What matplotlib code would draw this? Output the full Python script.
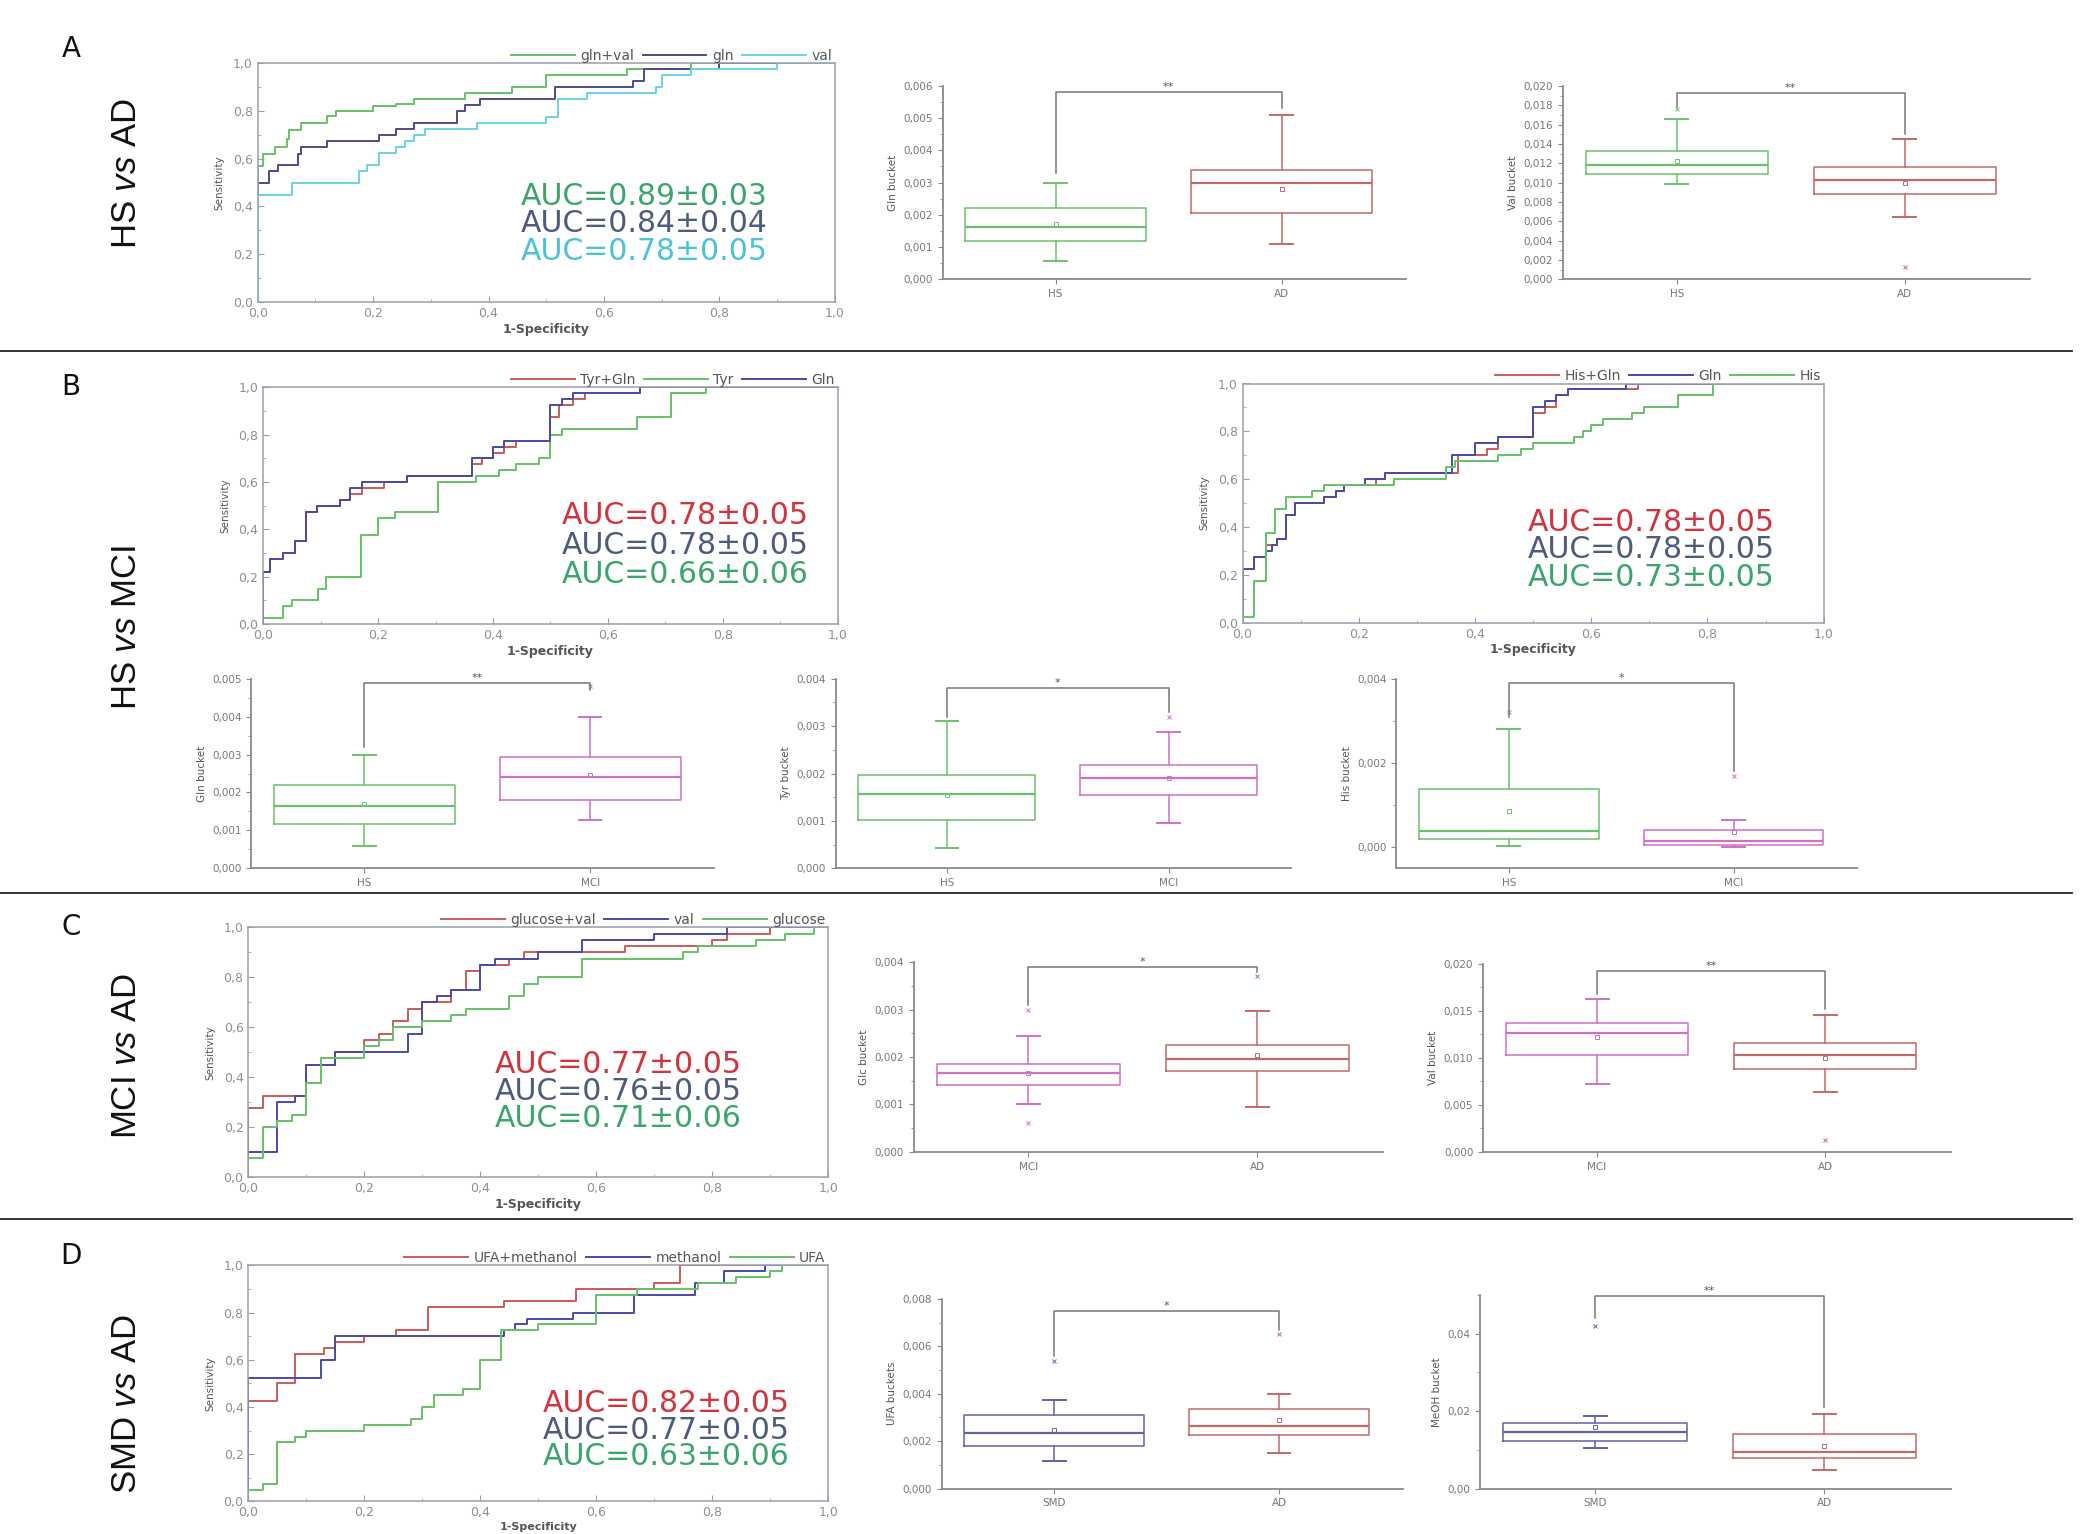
import matplotlib
matplotlib.use("Agg")
import matplotlib.pyplot as plt
from matplotlib.ticker import FuncFormatter, MultipleLocator, AutoMinorLocator
from matplotlib.lines import Line2D

plt.rcParams['font.family'] = ['DejaVu Sans']
plt.rcParams['mathtext.fontset'] = 'custom'
plt.rcParams['mathtext.rm'] = 'Liberation Sans'
plt.rcParams['mathtext.it'] = 'Liberation Sans:italic'

# ---- ROC data (fpr / tpr corner points, step curves) ----
# panel A, HS vs AD
a_glnval_fpr = [0, 0, 0.01, 0.03, 0.05, 0.055, 0.075, 0.12, 0.135, 0.20, 0.24, 0.27, 0.36, 0.44, 0.50, 0.64, 0.75, 1.0]
a_glnval_tpr = [0, 0.57, 0.62, 0.65, 0.68, 0.72, 0.75, 0.78, 0.80, 0.82, 0.83, 0.85, 0.875, 0.90, 0.95, 0.975, 1.0, 1.0]
a_gln_fpr = [0, 0, 0.02, 0.035, 0.07, 0.075, 0.12, 0.21, 0.24, 0.27, 0.345, 0.36, 0.385, 0.515, 0.65, 0.67, 0.80, 1.0]
a_gln_tpr = [0, 0.50, 0.55, 0.575, 0.62, 0.65, 0.675, 0.70, 0.725, 0.75, 0.80, 0.825, 0.85, 0.90, 0.925, 0.975, 1.0, 1.0]
a_val_fpr = [0, 0, 0.06, 0.175, 0.19, 0.21, 0.24, 0.255, 0.27, 0.29, 0.38, 0.50, 0.52, 0.57, 0.69, 0.70, 0.75, 0.90, 1.0]
a_val_tpr = [0, 0.45, 0.50, 0.55, 0.575, 0.625, 0.65, 0.675, 0.70, 0.725, 0.75, 0.775, 0.85, 0.875, 0.90, 0.95, 0.975, 1.0, 1.0]

# panel B, HS vs MCI (Tyr)
b1_tyrgln_fpr = [0, 0, 0.012, 0.035, 0.055, 0.075, 0.094, 0.133, 0.152, 0.172, 0.21, 0.25, 0.363, 0.38, 0.40, 0.42, 0.44, 0.50, 0.515, 0.54, 0.56, 0.656, 1.0]
b1_tyrgln_tpr = [0, 0.22, 0.275, 0.30, 0.35, 0.475, 0.50, 0.525, 0.55, 0.575, 0.60, 0.625, 0.675, 0.70, 0.725, 0.75, 0.775, 0.875, 0.925, 0.95, 0.975, 1.0, 1.0]
b1_tyr_fpr = [0, 0, 0.035, 0.05, 0.095, 0.11, 0.17, 0.20, 0.23, 0.305, 0.37, 0.41, 0.44, 0.48, 0.50, 0.52, 0.65, 0.71, 0.77, 1.0]
b1_tyr_tpr = [0, 0.025, 0.075, 0.10, 0.15, 0.20, 0.375, 0.45, 0.475, 0.60, 0.625, 0.65, 0.675, 0.70, 0.80, 0.825, 0.875, 0.975, 1.0, 1.0]
b1_gln_fpr = [0, 0, 0.012, 0.035, 0.055, 0.075, 0.094, 0.133, 0.152, 0.172, 0.25, 0.363, 0.40, 0.42, 0.50, 0.52, 0.54, 0.656, 1.0]
b1_gln_tpr = [0, 0.22, 0.275, 0.30, 0.35, 0.475, 0.50, 0.525, 0.575, 0.60, 0.625, 0.70, 0.75, 0.775, 0.925, 0.95, 0.975, 1.0, 1.0]

# panel B, HS vs MCI (His)
b2_hisgln_fpr = [0, 0, 0.02, 0.04, 0.06, 0.075, 0.09, 0.14, 0.16, 0.175, 0.23, 0.245, 0.37, 0.42, 0.44, 0.50, 0.52, 0.54, 0.56, 0.68, 1.0]
b2_hisgln_tpr = [0, 0.225, 0.275, 0.325, 0.35, 0.45, 0.50, 0.525, 0.55, 0.575, 0.60, 0.625, 0.70, 0.725, 0.775, 0.875, 0.90, 0.95, 0.975, 1.0, 1.0]
b2_gln_fpr = [0, 0, 0.02, 0.04, 0.05, 0.06, 0.075, 0.09, 0.14, 0.16, 0.175, 0.21, 0.245, 0.36, 0.40, 0.44, 0.50, 0.52, 0.54, 0.56, 0.66, 1.0]
b2_gln_tpr = [0, 0.225, 0.275, 0.30, 0.325, 0.35, 0.45, 0.50, 0.525, 0.55, 0.575, 0.60, 0.625, 0.70, 0.75, 0.775, 0.90, 0.925, 0.95, 0.975, 1.0, 1.0]
b2_his_fpr = [0, 0, 0.02, 0.04, 0.055, 0.075, 0.12, 0.14, 0.26, 0.35, 0.365, 0.44, 0.48, 0.50, 0.57, 0.585, 0.60, 0.62, 0.67, 0.69, 0.75, 0.81, 1.0]
b2_his_tpr = [0, 0.025, 0.175, 0.375, 0.475, 0.525, 0.55, 0.575, 0.60, 0.65, 0.675, 0.70, 0.725, 0.75, 0.775, 0.80, 0.825, 0.85, 0.875, 0.90, 0.95, 1.0, 1.0]

# panel C, MCI vs AD
c_glcval_fpr = [0, 0, 0.025, 0.10, 0.15, 0.20, 0.225, 0.25, 0.275, 0.30, 0.35, 0.375, 0.40, 0.45, 0.475, 0.65, 0.80, 0.825, 0.90, 1.0]
c_glcval_tpr = [0, 0.275, 0.325, 0.45, 0.50, 0.55, 0.575, 0.625, 0.675, 0.70, 0.75, 0.825, 0.85, 0.875, 0.90, 0.925, 0.95, 0.975, 1.0, 1.0]
c_val_fpr = [0, 0, 0.05, 0.08, 0.10, 0.15, 0.275, 0.30, 0.325, 0.35, 0.40, 0.425, 0.50, 0.575, 0.70, 0.825, 1.0]
c_val_tpr = [0, 0.10, 0.30, 0.325, 0.45, 0.50, 0.575, 0.70, 0.725, 0.75, 0.85, 0.875, 0.90, 0.95, 0.975, 1.0, 1.0]
c_glc_fpr = [0, 0, 0.025, 0.05, 0.075, 0.10, 0.125, 0.20, 0.225, 0.25, 0.30, 0.35, 0.375, 0.45, 0.475, 0.50, 0.575, 0.75, 0.775, 0.875, 0.925, 0.975, 1.0]
c_glc_tpr = [0, 0.075, 0.20, 0.225, 0.25, 0.375, 0.475, 0.525, 0.55, 0.60, 0.625, 0.65, 0.675, 0.725, 0.775, 0.80, 0.875, 0.90, 0.925, 0.95, 0.975, 1.0, 1.0]

# panel D, SMD vs AD
d_ufameoh_fpr = [0, 0, 0.05, 0.08, 0.13, 0.15, 0.20, 0.255, 0.31, 0.44, 0.565, 0.70, 0.745, 1.0]
d_ufameoh_tpr = [0, 0.425, 0.50, 0.625, 0.65, 0.675, 0.70, 0.725, 0.825, 0.85, 0.90, 0.925, 1.0, 1.0]
d_meoh_fpr = [0, 0, 0.125, 0.15, 0.44, 0.46, 0.48, 0.56, 0.665, 0.77, 0.82, 0.89, 1.0]
d_meoh_tpr = [0, 0.525, 0.60, 0.70, 0.725, 0.75, 0.775, 0.80, 0.875, 0.925, 0.975, 1.0, 1.0]
d_ufa_fpr = [0, 0, 0.025, 0.05, 0.08, 0.10, 0.20, 0.28, 0.30, 0.32, 0.37, 0.40, 0.435, 0.50, 0.60, 0.67, 0.775, 0.84, 0.90, 0.92, 1.0]
d_ufa_tpr = [0, 0.05, 0.075, 0.25, 0.275, 0.30, 0.325, 0.35, 0.40, 0.45, 0.475, 0.60, 0.725, 0.75, 0.875, 0.90, 0.925, 0.95, 0.975, 1.0, 1.0]

# ---- box data: [whisker low, q1, median, q3, whisker high, mean] ----
a_gln_hs = [0.00058, 0.00118, 0.00163, 0.0022, 0.0030, 0.0017]
a_gln_ad = [0.0011, 0.00206, 0.00298, 0.0034, 0.0051, 0.0028]
a_val_hs = [0.0099, 0.0109, 0.0118, 0.0133, 0.0166, 0.0122]
a_val_ad = [0.0064, 0.0088, 0.0103, 0.0116, 0.0145, 0.0100]
b_gln_hs = [0.00058, 0.00118, 0.00163, 0.0022, 0.0030, 0.0017]
b_gln_mci = [0.00128, 0.0018, 0.0024, 0.00293, 0.0040, 0.00245]
b_tyr_hs = [0.00042, 0.00102, 0.00156, 0.00196, 0.0031, 0.00155]
b_tyr_mci = [0.00095, 0.00155, 0.0019, 0.00217, 0.00287, 0.0019]
b_his_hs = [0.00002, 0.0002, 0.00038, 0.00138, 0.0028, 0.00085]
b_his_mci = [0.0, 0.00005, 0.00015, 0.0004, 0.00065, 0.00035]
c_glc_mci = [0.0010, 0.0014, 0.00166, 0.00185, 0.00244, 0.00167]
c_glc_ad = [0.00095, 0.0017, 0.00195, 0.00226, 0.00296, 0.00204]
c_val_mci = [0.0072, 0.0103, 0.0126, 0.0137, 0.0162, 0.0122]
c_val_ad = [0.0064, 0.0088, 0.0103, 0.0116, 0.0145, 0.0100]
d_ufa_smd = [0.00115, 0.0018, 0.00235, 0.0031, 0.00375, 0.00245]
d_ufa_ad = [0.0015, 0.00225, 0.00265, 0.00335, 0.0040, 0.0029]
d_meoh_smd = [0.0104, 0.0122, 0.0145, 0.0168, 0.0188, 0.0160]
d_meoh_ad = [0.0048, 0.0078, 0.0095, 0.0142, 0.0192, 0.0110]

# outlier points
a_val_hs_out = [0.0176]
a_val_ad_out = [0.0013]
b_gln_mci_out = [0.0048]
b_tyr_mci_out = [0.0032]
b_his_hs_out = [0.0032]
b_his_mci_out = [0.0017]
c_glc_mci_out = [0.0006, 0.0030]
c_glc_ad_out = [0.0037]
c_val_ad_out = [0.0013]
d_ufa_smd_out = [0.0054]
d_ufa_ad_out = [0.0065]
d_meoh_smd_out = [0.042]

GREEN_L = '#66c266'
PURPLE_L = '#4b4b8f'
CYAN_L = '#6ad3e3'
RED_L = '#cc5a5a'
BLUE_L = '#4a4aa8'
GREEN_T = '#3aa56c'
SLATE_T = '#4f5b7c'
CYAN_T = '#4cc2d6'
RED_T = '#d2333d'

HS_C = '#6cc06c'
AD_C = '#c26a6a'
MCI_C = '#cf70c8'
SMD_C = '#6262a8'
AXC = '#9a9fae'
TXC = '#8f8f8f'


def comma_fmt(nd):
    return FuncFormatter(lambda v, p: f"{v:.{nd}f}".replace('.', ','))


def draw_roc(ax, curves, names, colors, aucs, auc_colors, tx, ty):
    for (fpr, tpr), name, c in zip(curves, names, colors):
        ax.plot(fpr, tpr, drawstyle='steps-post', color=c, lw=1.4, label=name)
    ax.set_xlim(0, 1)
    ax.set_ylim(0, 1)
    ax.xaxis.set_major_locator(MultipleLocator(0.2))
    ax.yaxis.set_major_locator(MultipleLocator(0.2))
    ax.xaxis.set_minor_locator(MultipleLocator(0.1))
    ax.yaxis.set_minor_locator(MultipleLocator(0.1))
    ax.xaxis.set_major_formatter(comma_fmt(1))
    ax.yaxis.set_major_formatter(comma_fmt(1))
    ax.tick_params(which='both', direction='in', color=AXC, labelcolor=TXC, labelsize=9)
    ax.tick_params(which='major', length=4)
    ax.tick_params(which='minor', length=2)
    for s in ax.spines.values():
        s.set_color(AXC)
        s.set_linewidth(1.1)
    ax.set_ylabel('Sensitivity', fontsize=7.5, color='#555555', labelpad=6)
    ax.set_xlabel('1-Specificity', fontsize=9, color='#555555', fontweight='bold', labelpad=2)
    ax.legend(loc='lower right', bbox_to_anchor=(1.0, 0.99), ncol=3, frameon=False,
              fontsize=10, handlelength=4.6, columnspacing=0.6, handletextpad=0.4,
              borderaxespad=0.1, borderpad=0.1, labelcolor='#555555')
    for t, c, y in zip(aucs, auc_colors, ty):
        ax.text(tx, y, t, color=c, fontsize=21.5, transform=ax.transAxes, va='center', ha='left')


def draw_box(ax, stats, outs, colors, names, ylabel, ylim, ystep, nd, sig_y, legs, star):
    for i, (s, f, c) in enumerate(zip(stats, outs, colors)):
        d = dict(whislo=s[0], q1=s[1], med=s[2], q3=s[3], whishi=s[4], mean=s[5], fliers=f)
        ax.bxp([d], positions=[i + 1], widths=0.8, showmeans=True, showfliers=True,
               manage_ticks=False, capwidths=0.1,
               boxprops=dict(color=c, lw=1.1),
               whiskerprops=dict(color=c, lw=1.1),
               capprops=dict(color=c, lw=1.4),
               medianprops=dict(color=c, lw=1.6),
               meanprops=dict(marker='s', markersize=2.5, markerfacecolor='none', markeredgecolor=c, markeredgewidth=0.7),
               flierprops=dict(marker='x', markersize=3, markeredgecolor=c, markeredgewidth=0.7))
    ax.plot([1, 1, 2, 2], [legs[0], sig_y, sig_y, legs[1]], color='#777777', lw=1.1)
    ax.text(1.5, sig_y, star, ha='center', va='bottom', fontsize=8, color='#555555')
    ax.set_xlim(0.5, 2.55)
    ax.set_ylim(*ylim)
    ax.set_xticks([1, 2])
    ax.set_xticklabels(names)
    ax.yaxis.set_major_locator(MultipleLocator(ystep))
    ax.yaxis.set_minor_locator(AutoMinorLocator(2))
    ax.yaxis.set_major_formatter(comma_fmt(nd))
    ax.spines['top'].set_visible(False)
    ax.spines['right'].set_visible(False)
    for side in ['left', 'bottom']:
        ax.spines[side].set_color('#8a8a8a')
        ax.spines[side].set_linewidth(1.3)
    ax.tick_params(which='both', direction='out', color='#8a8a8a', labelcolor='#777777', labelsize=7.5)
    ax.tick_params(which='major', length=3.5)
    ax.tick_params(which='minor', length=2)
    ax.set_ylabel(ylabel, fontsize=7.5, color='#555555', labelpad=4)


fig = plt.figure(figsize=(20.95, 15.34), dpi=100)

# ---- row A ----
ax = fig.add_axes([0.123, 0.803, 0.2755, 0.156])
draw_roc(ax, [(a_glnval_fpr, a_glnval_tpr), (a_gln_fpr, a_gln_tpr), (a_val_fpr, a_val_tpr)],
         ['gln+val', 'gln', 'val'], [GREEN_L, PURPLE_L, CYAN_L],
         ['AUC=0.89±0.03', 'AUC=0.84±0.04', 'AUC=0.78±0.05'], [GREEN_T, SLATE_T, CYAN_T],
         0.455, [0.441, 0.330, 0.212])
ax = fig.add_axes([0.450, 0.818, 0.221, 0.126])
draw_box(ax, [a_gln_hs, a_gln_ad], [[], []], [HS_C, AD_C], ['HS', 'AD'], 'Gln bucket',
         (0, 0.006), 0.001, 3, 0.0058, [0.0033, 0.0053], '**')
ax = fig.add_axes([0.746, 0.818, 0.223, 0.126])
draw_box(ax, [a_val_hs, a_val_ad], [a_val_hs_out, a_val_ad_out], [HS_C, AD_C], ['HS', 'AD'], 'Val bucket',
         (0, 0.020), 0.002, 3, 0.0193, [0.0178, 0.015], '**')

# ---- row B ----
ax = fig.add_axes([0.1256, 0.5932, 0.2743, 0.1542])
draw_roc(ax, [(b1_tyrgln_fpr, b1_tyrgln_tpr), (b1_tyr_fpr, b1_tyr_tpr), (b1_gln_fpr, b1_gln_tpr)],
         ['Tyr+Gln', 'Tyr', 'Gln'], [RED_L, GREEN_L, BLUE_L],
         ['AUC=0.78±0.05', 'AUC=0.78±0.05', 'AUC=0.66±0.06'], [RED_T, SLATE_T, GREEN_T],
         0.519, [0.458, 0.333, 0.209])
ax = fig.add_axes([0.5931, 0.5941, 0.2774, 0.1559])
draw_roc(ax, [(b2_hisgln_fpr, b2_hisgln_tpr), (b2_gln_fpr, b2_gln_tpr), (b2_his_fpr, b2_his_tpr)],
         ['His+Gln', 'Gln', 'His'], [RED_L, BLUE_L, GREEN_L],
         ['AUC=0.78±0.05', 'AUC=0.78±0.05', 'AUC=0.73±0.05'], [RED_T, SLATE_T, GREEN_T],
         0.49, [0.419, 0.307, 0.190])
ax = fig.add_axes([0.120, 0.434, 0.221, 0.1235])
draw_box(ax, [b_gln_hs, b_gln_mci], [[], b_gln_mci_out], [HS_C, MCI_C], ['HS', 'MCI'], 'Gln bucket',
         (0, 0.005), 0.001, 3, 0.0049, [0.0032, 0.0047], '**')
ax = fig.add_axes([0.399, 0.434, 0.217, 0.1235])
draw_box(ax, [b_tyr_hs, b_tyr_mci], [[], b_tyr_mci_out], [HS_C, MCI_C], ['HS', 'MCI'], 'Tyr bucket',
         (0, 0.004), 0.001, 3, 0.0038, [0.0032, 0.0033], '*')
ax = fig.add_axes([0.6665, 0.434, 0.220, 0.1235])
draw_box(ax, [b_his_hs, b_his_mci], [b_his_hs_out, b_his_mci_out], [HS_C, MCI_C], ['HS', 'MCI'], 'His bucket',
         (-0.0005, 0.004), 0.002, 3, 0.0039, [0.0031, 0.0018], '*')

# ---- row C ----
ax = fig.add_axes([0.1186, 0.2326, 0.2768, 0.1629])
draw_roc(ax, [(c_glcval_fpr, c_glcval_tpr), (c_val_fpr, c_val_tpr), (c_glc_fpr, c_glc_tpr)],
         ['glucose+val', 'val', 'glucose'], [RED_L, BLUE_L, GREEN_L],
         ['AUC=0.77±0.05', 'AUC=0.76±0.05', 'AUC=0.71±0.06'], [RED_T, SLATE_T, GREEN_T],
         0.424, [0.449, 0.342, 0.235])
ax = fig.add_axes([0.4362, 0.2491, 0.2239, 0.1237])
draw_box(ax, [c_glc_mci, c_glc_ad], [c_glc_mci_out, c_glc_ad_out], [MCI_C, AD_C], ['MCI', 'AD'], 'Glc bucket',
         (0, 0.004), 0.001, 3, 0.0039, [0.0031, 0.0038], '*')
ax = fig.add_axes([0.7079, 0.2491, 0.2232, 0.1228])
draw_box(ax, [c_val_mci, c_val_ad], [[], c_val_ad_out], [MCI_C, AD_C], ['MCI', 'AD'], 'Val bucket',
         (0, 0.020), 0.005, 3, 0.0192, [0.0168, 0.0152], '**')

# ---- row D ----
ax = fig.add_axes([0.1186, 0.0212, 0.2768, 0.1539])
draw_roc(ax, [(d_ufameoh_fpr, d_ufameoh_tpr), (d_meoh_fpr, d_meoh_tpr), (d_ufa_fpr, d_ufa_tpr)],
         ['UFA+methanol', 'methanol', 'UFA'], [RED_L, BLUE_L, GREEN_L],
         ['AUC=0.82±0.05', 'AUC=0.77±0.05', 'AUC=0.63±0.06'], [RED_T, SLATE_T, GREEN_T],
         0.507, [0.413, 0.302, 0.190])
ax.xaxis.label.set_fontsize(8)
ax = fig.add_axes([0.4496, 0.0296, 0.220, 0.1237])
draw_box(ax, [d_ufa_smd, d_ufa_ad], [d_ufa_smd_out, d_ufa_ad_out], [SMD_C, AD_C], ['SMD', 'AD'], 'UFA buckets',
         (0, 0.008), 0.002, 3, 0.0075, [0.0056, 0.0067], '*')
ax = fig.add_axes([0.7066, 0.0296, 0.2245, 0.1263])
draw_box(ax, [d_meoh_smd, d_meoh_ad], [d_meoh_smd_out, []], [SMD_C, AD_C], ['SMD', 'AD'], 'MeOH bucket',
         (0, 0.050), 0.02, 2, 0.0498, [0.044, 0.021], '**')

# ---- labels and separators ----
for letter, y in [('A', 0.968), ('B', 0.748), ('C', 0.396), ('D', 0.181)]:
    fig.text(0.034, y, letter, fontsize=20, ha='center', va='center', color='#111111')

for label, y in [('HS $\\mathit{vs}$ AD', 0.887), ('HS $\\mathit{vs}$ MCI', 0.591),
                 ('MCI $\\mathit{vs}$ AD', 0.312), ('SMD $\\mathit{vs}$ AD', 0.085)]:
    fig.text(0.0606, y, label, fontsize=25, rotation=90, ha='center', va='center', color='#111111',
             family=['Liberation Sans', 'DejaVu Sans'])

for y in [0.7709, 0.4181, 0.2056]:
    fig.add_artist(Line2D([0.0, 0.989], [y, y], color='#222222', lw=1.3, transform=fig.transFigure))

fig.savefig('out.png', dpi=100, facecolor='white')
